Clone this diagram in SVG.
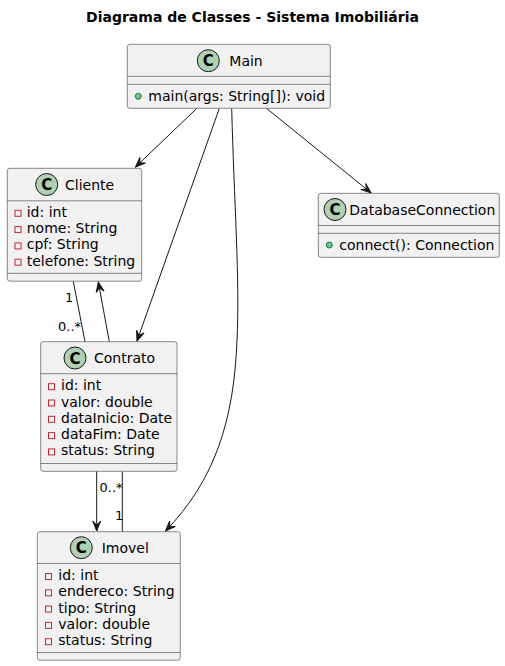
<svg xmlns="http://www.w3.org/2000/svg" width="505" height="666" viewBox="0 0 505 666">
<style>
text{font-family:"DejaVu Sans",sans-serif;font-size:14px;fill:#000}
.title{font-weight:bold;text-anchor:middle}
.box{fill:#F1F1F1;stroke:#181818;stroke-width:0.5}
.sep{stroke:#181818;stroke-width:0.5}
.ci{fill:#ADD1B2;stroke:#181818;stroke-width:1}
.cl{font-weight:bold;text-anchor:middle;font-size:15px}
.priv{fill:none;stroke:#C82930;stroke-width:1}
.pub{fill:#84BE84;stroke:#038048;stroke-width:1}
.edge{fill:none;stroke:#181818;stroke-width:1}
.lbl{font-size:13px}
</style>
<defs>
<marker id="ah" markerUnits="userSpaceOnUse" markerWidth="12" markerHeight="12" viewBox="-11 -6 12 12" refX="0" refY="0" orient="auto">
<path d="M0,0 L-10,-4 L-6,0 L-10,4 Z" fill="#181818" stroke="#181818" stroke-width="1" stroke-linejoin="miter"/>
</marker>
</defs>
<rect width="505" height="666" fill="#FFFFFF"/>
<text class="title" x="252.5" y="22">Diagrama de Classes - Sistema Imobiliária</text>

<g id="connectors">
<path class="edge" d="M196.7,108.5 L135.5,167" marker-end="url(#ah)"/>
<path class="edge" d="M219.3,108.5 L137,341" marker-end="url(#ah)"/>
<path class="edge" d="M231.7,108.5 C234,200 240,280 237,340 C234,420 215,480 165.5,531" marker-end="url(#ah)"/>
<path class="edge" d="M266.7,108.5 L371,192.8" marker-end="url(#ah)"/>
<path class="edge" d="M73.3,281.5 L85,341.7"/>
<path class="edge" d="M109.3,341.7 L98.3,282" marker-end="url(#ah)"/>
<path class="edge" d="M96.7,471.5 L96.7,531" marker-end="url(#ah)"/>
<path class="edge" d="M122.3,471.5 L122.3,531.7"/>
<text class="lbl" x="65" y="302">1</text>
<text class="lbl" x="58" y="331">0..*</text>
<text class="lbl" x="99.5" y="492">0..*</text>
<text class="lbl" x="115" y="520">1</text>
</g>

<g id="Main">
<rect class="box" x="127.3" y="44.3" width="203" height="64" rx="2.5"/>
<circle class="ci" cx="208.3" cy="60.7" r="11"/>
<text class="cl" x="208.3" y="66">C</text>
<text x="229.3" y="65.5">Main</text>
<line class="sep" x1="127.3" y1="76.3" x2="330.3" y2="76.3"/>
<line class="sep" x1="127.3" y1="84.3" x2="330.3" y2="84.3"/>
<circle class="pub" cx="138.3" cy="96.3" r="3"/>
<text x="148.3" y="101">main(args: String[]): void</text>
</g>

<g id="Cliente">
<rect class="box" x="7.3" y="168.3" width="134.4" height="112.9" rx="2.5"/>
<circle class="ci" cx="46.7" cy="184.5" r="11"/>
<text class="cl" x="46.7" y="190">C</text>
<text x="65" y="189.5">Cliente</text>
<line class="sep" x1="7.3" y1="200.8" x2="141.7" y2="200.8"/>
<rect class="priv" x="15" y="210.3" width="6" height="6"/>
<text x="26.7" y="216.8">id: int</text>
<rect class="priv" x="15" y="226.6" width="6" height="6"/>
<text x="26.7" y="233.1">nome: String</text>
<rect class="priv" x="15" y="242.9" width="6" height="6"/>
<text x="26.7" y="249.4">cpf: String</text>
<rect class="priv" x="15" y="259.2" width="6" height="6"/>
<text x="26.7" y="265.7">telefone: String</text>
<line class="sep" x1="7.3" y1="273.3" x2="141.7" y2="273.3"/>
</g>

<g id="Contrato">
<rect class="box" x="40.7" y="341.7" width="136.3" height="129.6" rx="2.5"/>
<circle class="ci" cx="75" cy="358" r="11"/>
<text class="cl" x="75" y="363.5">C</text>
<text x="94" y="363">Contrato</text>
<line class="sep" x1="40.7" y1="373.7" x2="177" y2="373.7"/>
<rect class="priv" x="48.5" y="383.7" width="6" height="6"/>
<text x="61" y="390.2">id: int</text>
<rect class="priv" x="48.5" y="400" width="6" height="6"/>
<text x="61" y="406.5">valor: double</text>
<rect class="priv" x="48.5" y="416.3" width="6" height="6"/>
<text x="61" y="422.8">dataInicio: Date</text>
<rect class="priv" x="48.5" y="432.6" width="6" height="6"/>
<text x="61" y="439.1">dataFim: Date</text>
<rect class="priv" x="48.5" y="448.9" width="6" height="6"/>
<text x="61" y="455.4">status: String</text>
<line class="sep" x1="40.7" y1="463.5" x2="177" y2="463.5"/>
</g>

<g id="Imovel">
<rect class="box" x="37.3" y="531.7" width="143" height="128.5" rx="2.5"/>
<circle class="ci" cx="81.3" cy="547.7" r="11"/>
<text class="cl" x="81.3" y="553.2">C</text>
<text x="101.7" y="553">Imovel</text>
<line class="sep" x1="37.3" y1="563.5" x2="180.3" y2="563.5"/>
<rect class="priv" x="45.5" y="573.5" width="6" height="6"/>
<text x="58.3" y="580">id: int</text>
<rect class="priv" x="45.5" y="589.8" width="6" height="6"/>
<text x="58.3" y="596.3">endereco: String</text>
<rect class="priv" x="45.5" y="606.1" width="6" height="6"/>
<text x="58.3" y="612.6">tipo: String</text>
<rect class="priv" x="45.5" y="622.4" width="6" height="6"/>
<text x="58.3" y="628.9">valor: double</text>
<rect class="priv" x="45.5" y="638.7" width="6" height="6"/>
<text x="58.3" y="645.2">status: String</text>
<line class="sep" x1="37.3" y1="652.5" x2="180.3" y2="652.5"/>
</g>

<g id="DatabaseConnection">
<rect class="box" x="318.3" y="193.3" width="181" height="64" rx="2.5"/>
<circle class="ci" cx="335" cy="209.5" r="11"/>
<text class="cl" x="335" y="215">C</text>
<text x="349.3" y="214.5">DatabaseConnection</text>
<line class="sep" x1="318.3" y1="225.5" x2="499.3" y2="225.5"/>
<line class="sep" x1="318.3" y1="233.3" x2="499.3" y2="233.3"/>
<circle class="pub" cx="329.3" cy="245" r="3"/>
<text x="339.3" y="249.5">connect(): Connection</text>
</g>
</svg>
